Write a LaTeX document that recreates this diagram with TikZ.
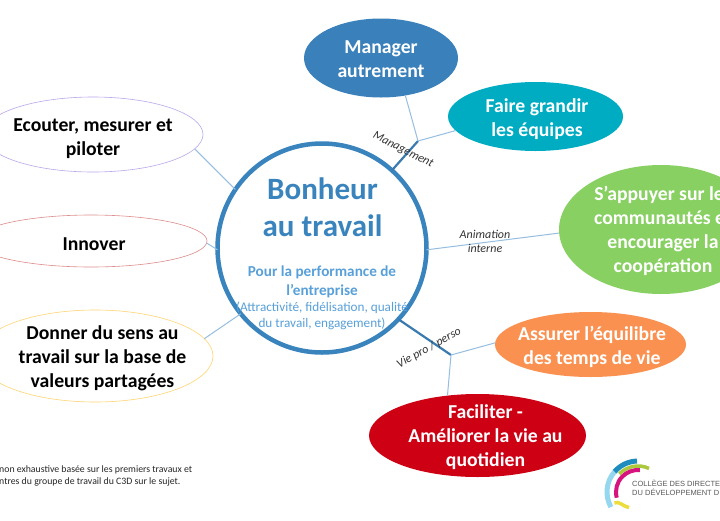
\documentclass[tikz,border=0pt]{standalone}
\usepackage{fontspec}
\setmainfont{Carlito}
\newfontfamily\logofont{Liberation Sans}
\usetikzlibrary{shapes.geometric}
\definecolor{cblue}{RGB}{58,132,190}
\definecolor{clight}{RGB}{88,160,217}
\definecolor{lineblue}{RGB}{150,190,225}
\definecolor{managerblue}{RGB}{58,128,186}
\definecolor{linkblue}{RGB}{58,122,175}
\definecolor{teal}{RGB}{0,172,194}
\definecolor{vert}{RGB}{136,208,98}
\definecolor{orangec}{RGB}{250,145,80}
\definecolor{rouge}{RGB}{205,0,20}
\definecolor{olive}{RGB}{172,200,60}
\definecolor{magentac}{RGB}{215,20,125}
\definecolor{yellowc}{RGB}{236,220,60}
\definecolor{skylight}{RGB}{150,215,240}
\definecolor{skydark}{RGB}{30,140,190}
\tikzset{
  el/.style={ellipse,inner sep=0pt,outer sep=0pt},
  eltext/.style={inner sep=0pt,align=center,font=\bfseries\fontsize{19.7}{24}\selectfont},
  thin link/.style={draw=lineblue,line width=1pt},
  thick link/.style={draw=linkblue,line width=2.2pt},
  rotlabel/.style={font=\itshape\fontsize{12}{14}\selectfont,text=black!80,inner sep=0pt},
  outline/.style={el,fill=white,line width=0.6pt}
}
\begin{document}
\begin{tikzpicture}[x=1pt,y=-1pt]
\clip (0,0) rectangle (720,520);
\fill[white] (0,0) rectangle (720,520);
% branch junctions
\coordinate (jm) at (418,141);
\coordinate (jv) at (451,355);
% ellipses
\node[el,fill=managerblue,minimum width=154pt,minimum height=79pt] (manager) at (381,58) {};
\node[el,fill=teal,minimum width=175pt,minimum height=69pt] (faire) at (535.5,116.5) {};
\node[el,fill=vert,minimum width=204pt,minimum height=129pt] (appuyer) at (661,229.5) {};
\node[outline,draw=violet!45!blue!35,minimum width=220pt,minimum height=75pt] (ecouter) at (93,134.5) {};
\node[outline,draw=red!70!black!45,minimum width=232pt,minimum height=52pt] (innover) at (91,241) {};
\node[outline,draw=orange!60!yellow!55,minimum width=236pt,minimum height=92pt] (donner) at (95,356) {};
\node[el,fill=orangec,minimum width=191pt,minimum height=65pt] (assurer) at (590.5,344.5) {};
\node[el,fill=rouge,minimum width=217pt,minimum height=83pt] (faciliter) at (477.5,435.5) {};
\node[circle,draw=cblue,line width=4.5pt,fill=white,minimum size=209pt,inner sep=0pt,outer sep=0pt] (centre) at (322,248) {};
% ellipse texts
\node[eltext,text=white] (tmanager) at (381,59) {Manager\\autrement};
\node[eltext,text=white] (tfaire) at (537,119.5) {Faire grandir\\les équipes};
\node[eltext,text=white] (tappuyer) at (663,231) {S’appuyer sur les\\communautés et\\encourager la\\coopération};
\node[eltext] (tecouter) at (93,138.5) {Ecouter, mesurer et\\piloter};
\node[eltext] (tinnover) at (94,244) {Innover};
\node[eltext] (tdonner) at (102.5,358) {Donner du sens au\\travail sur la base de\\valeurs partagées};
\node[eltext,text=white] (tassurer) at (592,346.5) {Assurer l’équilibre\\des temps de vie};
\node[eltext,text=white] (tfaciliter) at (485.5,437) {Faciliter -\\Améliorer la vie au\\quotidien};
% centre text
\node[text=cblue,font=\bfseries\fontsize{31}{37}\selectfont,align=center,inner sep=0pt] (titre) at (322.5,207) {Bonheur\\au travail};
\node[text=clight,font=\bfseries\fontsize{15.2}{19}\selectfont,align=center,inner sep=0pt] (sous) at (322,281.5) {Pour la performance de\\l’entreprise};
\node[text=clight,font=\fontsize{13.2}{16.5}\selectfont,align=center,inner sep=0pt] (paren) at (322,316) {(Attractivité, fidélisation, qualité\\du travail, engagement)};
% connectors
\draw[thick link] (centre.48) -- (jm);
\draw[thin link] (jm) -- (manager.-57);
\draw[thin link] (jm) -- (faire.190);
\draw[thin link] (centre.-1) -- (appuyer.182);
\draw[thick link] (centre.-43) -- (jv);
\draw[thin link] (jv) -- (assurer.179);
\draw[thin link] (jv) -- (faciliter.127);
\draw[thin link] (centre.146) -- (ecouter.-8);
\draw[thin link] (centre.181) -- (innover.-1);
\draw[thin link] (centre.219) -- (donner.9.5);
% branch labels
\node[rotlabel,rotate=-27] (lm) at (403,150) {Management};
\node[rotlabel,align=center] (la) at (485,241) {Animation\\interne};
\node[rotlabel,rotate=29] (lv) at (429,348) {Vie pro / perso};
% footnote
\node[anchor=west,align=left,inner sep=0pt,font=\fontsize{9.8}{12}\selectfont,text=black!85] (note) at (-1,476) {non exhaustive basée sur les premiers travaux et\\ntres du groupe de travail du C3D sur le sujet.};
% logo
\begin{scope}[shift={(638,492)},yscale=-1]
\draw[line width=5pt,skylight] (209:31) arc[start angle=209,end angle=139,radius=31];
\draw[line width=5pt,skydark] (139:31) arc[start angle=139,end angle=92,radius=31];
\draw[line width=3.5pt,olive] (136:26) arc[start angle=136,end angle=65,radius=26];
\draw[line width=4pt,magentac] (195:22) arc[start angle=195,end angle=85,radius=22];
\draw[line width=3.5pt,yellowc] (205:26) .. controls (204:21) and (222:21) .. (240:18);
\end{scope}
\node[anchor=north west,align=left,inner sep=0pt,font=\logofont\fontsize{7.5}{9}\selectfont,text=black!65] (logotext) at (632,480) {COLLÈGE DES DIRECTE\\DU DÉVELOPPEMENT D};
\end{tikzpicture}
\end{document}
